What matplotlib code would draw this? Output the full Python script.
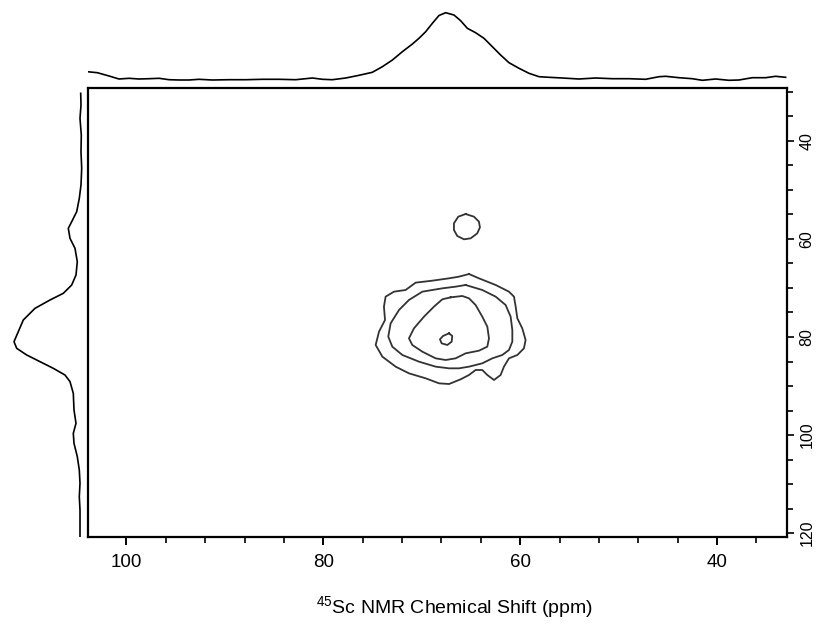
import numpy as np
import matplotlib.pyplot as plt
from matplotlib.ticker import MultipleLocator

plt.rcParams['font.family'] = ['Liberation Sans Narrow', 'DejaVu Sans Condensed', 'Liberation Sans', 'DejaVu Sans']
plt.rcParams['mathtext.fontset'] = 'custom'
plt.rcParams['mathtext.rm'] = 'Liberation Sans'

# 45Sc shift (ppm) ranges of the 2D plot
x_lim = (103.9, 32.9)
y_lim = (120.8, 29.1)

# top projection (ppm, intensity)
top_ppm = [103.96, 102.95, 101.76, 100.75, 99.73, 98.72, 97.70, 96.68, 95.67, 94.65,
           93.64, 92.62, 91.27, 89.57, 87.88, 86.19, 84.50, 82.80, 81.11, 80.09,
           79.08, 77.72, 76.37, 75.02, 74.00, 72.98, 71.97, 70.95, 70.28, 69.60,
           68.92, 68.25, 67.57, 66.73, 66.05, 65.37, 64.53, 63.68, 62.83, 61.99,
           61.14, 60.12, 59.11, 58.09, 57.08, 55.72, 54.03, 52.34, 50.64, 48.95,
           47.26, 45.90, 45.23, 43.87, 42.52, 41.50, 40.15, 38.80, 37.78, 36.43,
           35.07, 34.06, 33.04]
top_int = [8.3, 7.3, 4.0, 1.0, 1.7, 1.0, 1.3, 1.7, 0.3, 0.0,
           0.0, 0.7, 0.0, 0.3, 0.3, 0.7, 0.7, 0.3, 2.0, 0.7,
           0.3, 2.0, 4.7, 7.7, 13.3, 20.0, 28.3, 36.0, 41.7, 48.3,
           56.7, 64.5, 67.3, 65.0, 59.3, 51.7, 47.3, 41.7, 33.3, 25.0,
           17.3, 11.7, 6.7, 3.3, 2.7, 2.0, 1.0, 2.0, 1.3, 1.3,
           0.7, 3.3, 3.7, 2.3, 1.3, -0.3, 1.0, -0.3, 0.0, 2.3,
           2.3, 3.7, 2.7]

# left projection (ppm, intensity)
left_ppm = [30.29, 32.67, 35.39, 38.79, 42.19, 45.59, 48.99, 51.71, 54.43, 56.47,
            57.83, 59.87, 61.91, 64.63, 67.35, 69.39, 71.09, 72.45, 74.15, 76.53,
            78.91, 80.95, 82.31, 83.67, 85.03, 86.39, 87.75, 89.11, 91.49, 94.89,
            97.61, 99.65, 101.69, 104.41, 107.13, 109.85, 112.57, 115.29, 118.01, 121.07]
left_int = [-0.7, -1.0, 0.0, -1.3, -1.0, -1.7, -1.0, 0.7, 3.3, 8.3,
            11.7, 10.0, 5.0, 2.7, 4.0, 8.3, 16.7, 30.0, 45.0, 56.7,
            61.7, 66.0, 63.3, 53.3, 40.0, 26.7, 15.0, 10.0, 6.7, 6.0,
            4.0, 6.7, 6.0, 2.7, 0.7, 0.0, 0.7, 0.0, 0.0, 0.0]

# contour outlines (F2 ppm, F1 ppm)
outer_x = [65.20, 64.19, 62.49, 61.14, 60.63, 60.46, 60.29, 59.79, 59.45, 59.62,
           60.29, 61.14, 61.65, 61.99, 62.66, 63.34, 63.85, 64.53, 65.20, 66.05,
           67.23, 68.25, 69.60, 71.30, 72.65, 74.00, 74.68, 74.34, 73.73, 73.84,
           73.67, 72.82, 71.64, 70.62, 68.93, 67.23, 66.22]
outer_y = [67.15, 68.03, 69.39, 70.75, 71.77, 73.81, 76.19, 78.23, 80.61, 82.31,
           83.67, 84.35, 86.05, 87.75, 88.77, 87.75, 86.73, 86.73, 87.75, 88.63,
           89.59, 89.45, 88.43, 87.41, 86.05, 84.01, 81.63, 78.91, 76.53, 73.81,
           71.77, 70.75, 70.41, 68.91, 68.51, 68.03, 67.69]

second_x = [65.54, 63.85, 62.49, 61.48, 60.97, 60.80, 60.80, 61.14, 61.82, 62.83,
            63.85, 65.20, 66.22, 67.23, 68.59, 70.28, 71.97, 72.99, 73.40, 73.16,
            72.31, 71.30, 69.94, 67.91, 66.56]
second_y = [69.39, 70.41, 71.77, 73.47, 75.85, 78.57, 80.95, 82.65, 83.67, 84.35,
            85.37, 86.05, 86.39, 86.39, 86.05, 85.03, 83.67, 81.97, 79.93, 77.21,
            74.49, 72.45, 70.75, 70.07, 69.73]

third_x = [67.07, 65.88, 65.20, 64.53, 63.85, 63.34, 63.17, 63.34, 64.19, 65.54,
           66.56, 67.57, 68.59, 69.94, 70.96, 71.30, 70.79, 69.77, 68.76, 67.91]
third_y = [71.91, 71.63, 72.11, 73.47, 75.85, 77.89, 80.27, 81.97, 82.79, 83.33,
           84.35, 84.69, 84.35, 82.99, 81.63, 80.27, 78.23, 75.85, 73.81, 72.31]

inner_x = [67.23, 66.90, 66.96, 67.40, 67.98, 68.15, 67.84]
inner_y = [79.25, 79.79, 80.95, 81.63, 81.29, 80.47, 79.79]

small_x = [65.54, 64.70, 64.19, 64.09, 64.36, 65.03, 65.71, 66.39, 66.73, 66.73, 66.29]
small_y = [54.91, 55.45, 56.47, 57.63, 58.85, 59.87, 60.07, 59.39, 58.17, 56.81, 55.45]

contours = [(outer_x, outer_y), (second_x, second_y), (third_x, third_y),
            (inner_x, inner_y), (small_x, small_y)]

fig = plt.figure(figsize=(8.17, 6.25), dpi=100)
ax = fig.add_axes([88/817, 1 - 537/625, 699/817, 449.5/625])
ax_top = fig.add_axes([88/817, 1 - 86/625, 699/817, 86/625])
ax_left = fig.add_axes([0, 1 - 537/625, 86/817, 449.5/625])

for cx, cy in contours:
    ax.plot(list(cx) + [cx[0]], list(cy) + [cy[0]], color='#333333', lw=1.3,
            solid_joinstyle='round')

ax.set_xlim(*x_lim)
ax.set_ylim(*y_lim)
for s in ax.spines.values():
    s.set_linewidth(1.6)
ax.yaxis.tick_right()
ax.xaxis.set_major_locator(MultipleLocator(20))
ax.xaxis.set_minor_locator(MultipleLocator(4))
ax.yaxis.set_major_locator(MultipleLocator(20))
ax.yaxis.set_minor_locator(MultipleLocator(5))
ax.tick_params(axis='x', which='major', length=6, width=1.4, labelsize=13.5, pad=6)
ax.tick_params(axis='x', which='minor', length=4, width=1.2)
ax.tick_params(axis='y', which='major', length=5, width=1.2, pad=4)
ax.tick_params(axis='y', which='minor', length=4, width=1.2)
for lab in ax.get_yticklabels():
    lab.set_rotation(90)
    lab.set_va('center')
    lab.set_family(['Liberation Sans', 'DejaVu Sans'])
    lab.set_fontsize(11.5)
ax.set_xlabel(r'$^{45}$Sc NMR Chemical Shift (ppm)', fontsize=14)
ax.xaxis.set_label_coords(0.524, -0.128)

ax_top.plot(top_ppm, top_int, color='black', lw=1.2)
ax_top.set_xlim(*x_lim)
ax_top.set_ylim(-6, 80)
ax_top.axis('off')

ax_left.plot(left_int, left_ppm, color='black', lw=1.2)
ax_left.set_xlim(80, -6)
ax_left.set_ylim(*y_lim)
ax_left.axis('off')

fig.savefig('out.png', dpi=100)
